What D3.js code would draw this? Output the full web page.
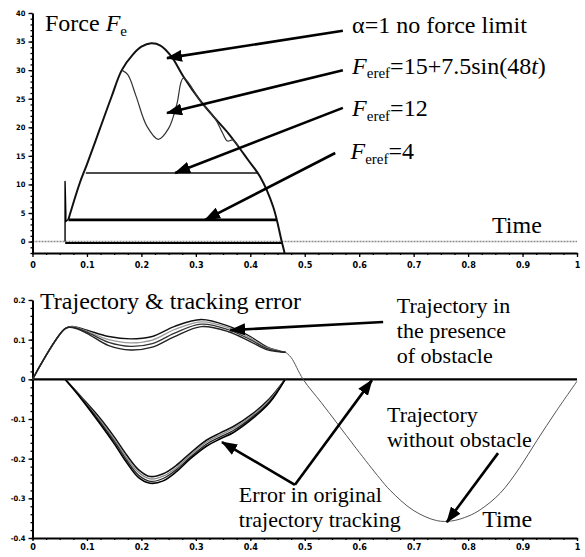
<!DOCTYPE html>
<html>
<head>
<meta charset="utf-8">
<script src="https://cdn.jsdelivr.net/npm/d3@7/dist/d3.min.js"></script>
<style>
  body { margin: 0; background: #fff; }
  svg { display: block; }
  .tick text { font-family: "DejaVu Sans Condensed", "DejaVu Sans", sans-serif; font-weight: bold; fill: #000; }
</style>
</head>
<body>
<svg width="585" height="557"></svg>
<script>
// ---- tick labels
var timeTicks = [0, 0.1, 0.2, 0.3, 0.4, 0.5, 0.6, 0.7, 0.8, 0.9, 1];
var timeLabels = ["0", "0.1", "0.2", "0.3", "0.4", "0.5", "0.6", "0.7", "0.8", "0.9", "1"];
var forceTicks = [0, 5, 10, 15, 20, 25, 30, 35, 40];
var trajTicks = [-0.4, -0.3, -0.2, -0.1, 0, 0.1, 0.2];
var trajLabels = ["-0.4", "-0.3", "-0.2", "-0.1", "0", "0.1", "0.2"];

// ---- top panel: contact force
var spikeT = [0.0598, 0.0598, 0.0612, 0.0612, 0.066];
var spikeF = [0, 10.5, 5, 3.5, 3.9];
var noLimitT = [0.066, 0.087, 0.1, 0.124, 0.145, 0.164, 0.185, 0.2, 0.218, 0.235, 0.255, 0.277, 0.307, 0.335, 0.36, 0.376, 0.395, 0.418, 0.442, 0.458, 0.463];
var noLimitF = [3.9, 10.3, 13.5, 19.8, 25.3, 30, 32.8, 34.1, 34.7, 34.3, 32.4, 28.9, 24.8, 21.6, 18.9, 16.9, 14.4, 11.35, 6.1, -0.1, -2];
var sinLimitT = [0.164, 0.175, 0.19, 0.21, 0.231, 0.25, 0.265, 0.277, 0.307, 0.335, 0.348, 0.358, 0.368, 0.378];
var sinLimitF = [30, 29.2, 25.5, 20.2, 17.9, 19.8, 24, 28.6, 24.8, 21.6, 19.2, 17.6, 17.8, 16.7];
var limit12T = [0.098, 0.25, 0.414];
var limit12F = [12, 12, 12];
var limit4T = [0.066, 0.25, 0.448];
var limit4F = [3.8, 3.8, 3.8];
var contactT = [0.06, 0.46];
var contactF = [-0.25, -0.25];

// ---- bottom panel: trajectory & tracking error
var trajT = [0, 0.06, 0.075, 0.1, 0.14, 0.18, 0.22, 0.26, 0.31, 0.36, 0.4, 0.43, 0.45, 0.465];
var trajRun1 = [0, 0.128, 0.133, 0.124, 0.108, 0.102, 0.108, 0.133, 0.151, 0.134, 0.108, 0.082, 0.073, 0.068];
var trajRun2 = [0, 0.128, 0.132, 0.121, 0.1, 0.092, 0.099, 0.125, 0.145, 0.13, 0.104, 0.08, 0.072, 0.068];
var trajRun3 = [0, 0.128, 0.131, 0.119, 0.093, 0.083, 0.09, 0.116, 0.139, 0.125, 0.1, 0.078, 0.071, 0.068];
var trajRun4 = [0, 0.128, 0.13, 0.116, 0.085, 0.074, 0.081, 0.107, 0.133, 0.12, 0.095, 0.075, 0.07, 0.068];
var freeT = [0.465, 0.475, 0.497, 0.53, 0.559, 0.595, 0.638, 0.657, 0.699, 0.742, 0.77, 0.8, 0.822, 0.859, 0.895, 0.926, 0.963, 1.0];
var freeV = [0.068, 0.055, 0, -0.058, -0.11, -0.175, -0.25, -0.28, -0.33, -0.356, -0.357, -0.345, -0.329, -0.287, -0.222, -0.155, -0.078, -0.005];
var errT = [0.06, 0.09, 0.124, 0.15, 0.173, 0.195, 0.216, 0.24, 0.265, 0.29, 0.32, 0.345, 0.369, 0.405, 0.436, 0.464];
var errRun1 = [0, -0.045, -0.098, -0.145, -0.191, -0.228, -0.245, -0.238, -0.216, -0.186, -0.153, -0.135, -0.119, -0.086, -0.048, 0];
var errRun2 = [0, -0.047, -0.103, -0.151, -0.198, -0.235, -0.251, -0.244, -0.222, -0.191, -0.158, -0.140, -0.124, -0.090, -0.051, 0];
var errRun3 = [0, -0.048, -0.107, -0.156, -0.204, -0.242, -0.257, -0.25, -0.227, -0.196, -0.163, -0.145, -0.129, -0.094, -0.055, 0];
var errRun4 = [0, -0.05, -0.112, -0.162, -0.21, -0.248, -0.262, -0.256, -0.232, -0.2, -0.168, -0.15, -0.134, -0.098, -0.058, 0];

// try the Times-like faces first
var serif = 'Tinos, "Liberation Serif", "Nimbus Roman", "FreeSerif", "Noto Serif", "DejaVu Serif", Times, serif';

var svg = d3.select('svg');

// scales, both panels share the time axis
var x = d3.scaleLinear().domain([0, 1]).range([32.5, 577]);
var yF = d3.scaleLinear().domain([-2, 40]).range([253, 13]);
var yV = d3.scaleLinear().domain([-0.4, 0.2]).range([538, 300]);

var zip = (a, b) => a.map((d, i) => [d, b[i]]);

// arrow head
svg.append('defs').append('marker')
    .attr('id', 'head')
    .attr('viewBox', '0 0 16 12')
    .attr('refX', 15).attr('refY', 6)
    .attr('markerWidth', 16).attr('markerHeight', 12)
    .attr('markerUnits', 'userSpaceOnUse')
    .attr('orient', 'auto')
    .append('path').attr('d', 'M0,0 L16,6 L0,12 Z').attr('fill', '#000');

function drawAxes(yScale, ticks, labels, minorStep, xTickSize, xPad, ySize) {
    var g = svg.append('g');
    var x0 = x(0), yBase = yScale.range()[0];

    // minor ticks first
    g.append('g')
        .attr('transform', 'translate(' + [x0, 0] + ')')
        .call(d3.axisLeft(yScale).tickValues(d3.range(yScale.domain()[0], yScale.domain()[1] + 1e-9, minorStep))
            .tickSize(2).tickSizeOuter(0).tickFormat(''))
        .call(a => a.select('.domain').remove());
    g.append('g')
        .attr('transform', 'translate(' + [0, yBase] + ')')
        .call(d3.axisBottom(x).tickValues(d3.range(0, 1.0001, 0.025)).tickSize(2).tickSizeOuter(0).tickFormat(''))
        .call(a => a.select('.domain').remove());

    var ya = g.append('g')
        .attr('transform', 'translate(' + [x0, 0] + ')')
        .call(d3.axisLeft(yScale).tickValues(ticks).tickSize(4).tickPadding(3).tickSizeOuter(0)
            .tickFormat((d, i) => labels[i]));
    ya.selectAll('text').style('font-size', ySize + 'px');

    var xa = g.append('g')
        .attr('transform', 'translate(' + [0, yBase] + ')')
        .call(d3.axisBottom(x).tickValues(timeTicks).tickSize(xTickSize).tickPadding(xPad).tickSizeOuter(0)
            .tickFormat((d, i) => timeLabels[i]));
    xa.selectAll('text').style('font-size', '9px');

    g.selectAll('.domain').attr('stroke-width', 2);
    g.selectAll('.tick line').attr('stroke-width', 1.3);
}

function curve(yScale, ts, vs, color, width, smooth) {
    var line = d3.line()
        .x(d => x(d[0]))
        .y(d => yScale(d[1]))
        .curve(smooth ? d3.curveCatmullRom.alpha(0.5) : d3.curveLinear);
    svg.append('path')
        .datum(zip(ts, vs))
        .attr('d', line)
        .attr('fill', 'none')
        .attr('stroke', color)
        .attr('stroke-width', width)
        .attr('stroke-linejoin', 'round');
}

function arrow(yScale, from, to) {
    svg.append('line')
        .attr('x1', x(from[0])).attr('y1', yScale(from[1]))
        .attr('x2', x(to[0])).attr('y2', yScale(to[1]))
        .attr('stroke', '#000').attr('stroke-width', 2.6)
        .attr('marker-end', 'url(#head)');
}

// parts: [text, style] ; style 'i' italic, 's' subscript
function note(yScale, t, v, size, parts) {
    var txt = svg.append('text')
        .attr('x', x(t)).attr('y', yScale(v))
        .attr('font-family', serif)
        .attr('font-size', size)
        .attr('fill', '#000');
    var down = false;
    parts.forEach(p => {
        var sp = txt.append('tspan').text(p[0]);
        if (p[1] === 'i') sp.attr('font-style', 'italic');
        if (p[1] === 's') {
            sp.attr('font-size', Math.round(size * 0.62)).attr('dy', size * 0.2);
            down = true;
        } else if (down) {
            sp.attr('dy', -size * 0.2);
            down = false;
        }
    });
}

// ---------------- top panel
svg.append('line')
    .attr('x1', x(0)).attr('x2', x(1))
    .attr('y1', yF(0)).attr('y2', yF(0))
    .attr('stroke', '#8a8a8a').attr('stroke-width', 1.6)
    .attr('stroke-dasharray', '2,1');

drawAxes(yF, forceTicks, forceTicks.map(String), 1, 4, 5, 7.5);

curve(yF, contactT, contactF, '#000', 2.2, false);
curve(yF, spikeT, spikeF, '#000', 1.4, false);
curve(yF, noLimitT, noLimitF, '#111', 2, true);
curve(yF, sinLimitT, sinLimitF, '#333', 1.2, true);
curve(yF, limit12T, limit12F, '#111', 1.6, false);
curve(yF, limit4T, limit4F, '#000', 2.6, false);

arrow(yF, [0.570, 36.9], [0.247, 32.1]);
arrow(yF, [0.570, 30.0], [0.247, 22.5]);
arrow(yF, [0.570, 23.4], [0.262, 12.0]);
arrow(yF, [0.556, 15.5], [0.317, 3.8]);

note(yF, 0.023, 36.9, 24, [['Force '], ['F', 'i'], ['e', 's']]);
note(yF, 0.587, 36.5, 24, [['α=1 no force limit']]);
note(yF, 0.587, 29.4, 24, [['F', 'i'], ['eref', 's'], ['=15+7.5sin(48'], ['t', 'i'], [')']]);
note(yF, 0.587, 22.0, 24, [['F', 'i'], ['eref', 's'], ['=12']]);
note(yF, 0.584, 14.5, 24, [['F', 'i'], ['eref', 's'], ['=4']]);
note(yF, 0.844, 1.5, 24, [['Time']]);

// ---------------- bottom panel
drawAxes(yV, trajTicks, trajLabels, 0.02, 3, 3, 7.5);

svg.append('line')
    .attr('x1', x(0)).attr('x2', x(1))
    .attr('y1', yV(0)).attr('y2', yV(0))
    .attr('stroke', '#000').attr('stroke-width', 2.2);

curve(yV, trajT, trajRun1, '#111', 1.4, true);
curve(yV, trajT, trajRun2, '#999', 1.3, true);
curve(yV, trajT, trajRun3, '#333', 1.3, true);
curve(yV, trajT, trajRun4, '#222', 1.4, true);
curve(yV, freeT, freeV, '#555', 1, true);
curve(yV, errT, errRun1, '#111', 1.6, true);
curve(yV, errT, errRun2, '#888', 1.3, true);
curve(yV, errT, errRun3, '#222', 1.3, true);
curve(yV, errT, errRun4, '#000', 1.6, true);

arrow(yV, [0.644, 0.1446], [0.363, 0.124]);
arrow(yV, [0.482, -0.266], [0.6235, -0.002]);
arrow(yV, [0.482, -0.266], [0.348, -0.158]);
arrow(yV, [0.855, -0.186], [0.761, -0.36]);

note(yV, 0.0138, 0.178, 24, [['Trajectory & tracking error']]);
note(yV, 0.669, 0.168, 22, [['Trajectory in']]);
note(yV, 0.669, 0.105, 22, [['the presence']]);
note(yV, 0.669, 0.042, 22, [['of obstacle']]);
note(yV, 0.651, -0.108, 22, [['Trajectory']]);
note(yV, 0.651, -0.171, 22, [['without  obstacle']]);
note(yV, 0.379, -0.31, 22, [['Error in original']]);
note(yV, 0.379, -0.372, 22, [['trajectory tracking']]);
note(yV, 0.826, -0.372, 24, [['Time']]);
</script>
</body>
</html>
